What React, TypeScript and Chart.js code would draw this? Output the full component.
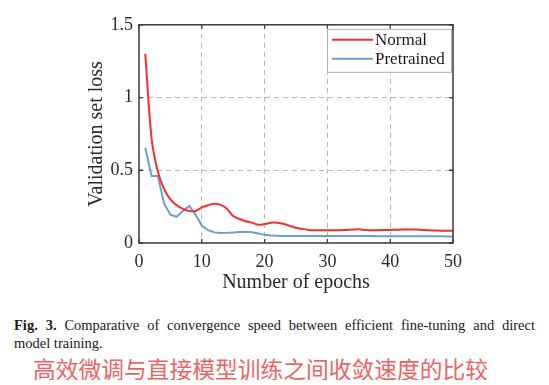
import React, { useEffect, useRef } from "react";
import { Chart, registerables } from "chart.js";

Chart.register(...registerables);

const epochs = [1, 2, 3, 4, 5, 6, 7, 8, 9, 10, 11, 12, 13, 14, 15, 16, 17, 18, 19, 20, 21, 22, 23, 24, 25, 26, 27, 28, 29, 30, 31, 32, 33, 34, 35, 36, 37, 38, 39, 40, 41, 42, 43, 44, 45, 46, 47, 48, 49, 50];

const normalLoss = [1.3, 0.72, 0.49, 0.37, 0.3, 0.26, 0.235, 0.22, 0.22, 0.245, 0.26, 0.27, 0.262, 0.235, 0.185, 0.165, 0.15, 0.14, 0.125, 0.13, 0.14, 0.14, 0.132, 0.118, 0.105, 0.097, 0.09, 0.088, 0.087, 0.087, 0.087, 0.088, 0.09, 0.092, 0.094, 0.09, 0.087, 0.088, 0.09, 0.09, 0.091, 0.092, 0.093, 0.092, 0.09, 0.088, 0.086, 0.085, 0.084, 0.084];

const pretrainedLoss = [0.655, 0.46, 0.46, 0.27, 0.195, 0.18, 0.22, 0.255, 0.195, 0.12, 0.088, 0.073, 0.069, 0.07, 0.072, 0.075, 0.077, 0.074, 0.066, 0.056, 0.051, 0.049, 0.048, 0.048, 0.048, 0.048, 0.048, 0.048, 0.048, 0.048, 0.048, 0.048, 0.048, 0.048, 0.048, 0.048, 0.048, 0.047, 0.047, 0.047, 0.047, 0.047, 0.047, 0.046, 0.046, 0.046, 0.046, 0.046, 0.045, 0.045];

const seriesLabels = ["Normal", "Pretrained"];
const seriesColors = ["#ff2a2a", "#6a9fd4"];

const xTicks = [0, 10, 20, 30, 40, 50];
const yTicks = [0, 0.5, 1, 1.5];

const SERIF = "'Liberation Serif', 'Times New Roman', serif";

const framePlugin = {
  id: "frame",
  afterDraw(chart: any) {
    const { ctx, chartArea } = chart;
    const { left, right, top, bottom } = chartArea;
    const xs = chart.scales.x;
    const ys = chart.scales.y;
    ctx.save();
    ctx.strokeStyle = "#3a3a3a";
    ctx.lineWidth = 1.3;
    ctx.setLineDash([]);
    ctx.beginPath();
    const tl = 4;
    xTicks.forEach((v) => {
      const px = xs.getPixelForValue(v);
      ctx.moveTo(px, bottom);
      ctx.lineTo(px, bottom - tl);
      ctx.moveTo(px, top);
      ctx.lineTo(px, top + tl);
    });
    yTicks.forEach((v) => {
      const py = ys.getPixelForValue(v);
      ctx.moveTo(left, py);
      ctx.lineTo(left + tl, py);
      ctx.moveTo(right, py);
      ctx.lineTo(right - tl, py);
    });
    ctx.stroke();
    ctx.lineWidth = 1.5;
    ctx.strokeRect(left, top, right - left, bottom - top);

    // legend
    const bx = right - 126;
    const by = top + 4;
    const bw = 124;
    const bh = 43;
    ctx.fillStyle = "#ffffff";
    ctx.fillRect(bx, by, bw, bh);
    ctx.strokeStyle = "#b0b0b0";
    ctx.lineWidth = 1;
    ctx.strokeRect(bx + 0.5, by + 0.5, bw, bh);
    ctx.font = "17px " + SERIF;
    ctx.textBaseline = "middle";
    ctx.textAlign = "left";
    chart.data.datasets.forEach((ds: any, i: number) => {
      const yy = top + 15 + i * 19;
      ctx.strokeStyle = ds.borderColor;
      ctx.lineWidth = 2;
      ctx.beginPath();
      ctx.moveTo(right - 121, yy);
      ctx.lineTo(right - 80, yy);
      ctx.stroke();
      ctx.fillStyle = "#1a1a1a";
      ctx.fillText(ds.label, right - 78, yy + 1);
    });
    ctx.restore();
  },
};

function LossChart() {
  const ref = useRef<HTMLCanvasElement | null>(null);
  useEffect(() => {
    if (!ref.current) return;
    const mk = (vals: number[]) => epochs.map((e, i) => ({ x: e, y: vals[i] }));
    const gridColor = (ctx: any) => {
      const v = ctx.tick ? ctx.tick.value : null;
      const s = ctx.scale;
      if (v === s.min || v === s.max) return "rgba(0,0,0,0)";
      return "#b8b8b8";
    };
    const chart = new Chart(ref.current, {
      type: "line",
      data: {
        datasets: [
          {
            label: seriesLabels[0],
            data: mk(normalLoss),
            borderColor: seriesColors[0],
            backgroundColor: seriesColors[0],
            borderWidth: 2,
            pointRadius: 0,
            tension: 0.3,
          },
          {
            label: seriesLabels[1],
            data: mk(pretrainedLoss),
            borderColor: seriesColors[1],
            backgroundColor: seriesColors[1],
            borderWidth: 2,
            pointRadius: 0,
            tension: 0,
          },
        ],
      },
      options: {
        animation: false,
        responsive: true,
        maintainAspectRatio: false,
        layout: { padding: { left: 75, right: 88, top: 13, bottom: 0 } },
        plugins: {
          legend: { display: false },
          tooltip: { enabled: false },
        },
        scales: {
          x: {
            type: "linear",
            min: 0,
            max: 50,
            afterBuildTicks: (axis: any) => {
              axis.ticks = xTicks.map((v) => ({ value: v }));
            },
            afterFit: (axis: any) => {
              axis.height = 60;
            },
            ticks: {
              color: "#2a2a2a",
              font: { family: SERIF, size: 18 },
              padding: 8,
              maxRotation: 0,
            },
            grid: { color: gridColor, lineWidth: 1, drawTicks: false },
            border: { display: false, dash: [5, 4] },
            title: {
              display: true,
              text: "Number of epochs",
              color: "#2a2a2a",
              font: { family: SERIF, size: 20 },
              padding: { top: 0, bottom: 8 },
            },
          },
          y: {
            type: "linear",
            min: 0,
            max: 1.5,
            afterBuildTicks: (axis: any) => {
              axis.ticks = yTicks.map((v) => ({ value: v }));
            },
            afterFit: (axis: any) => {
              axis.width = 56;
            },
            ticks: {
              color: "#2a2a2a",
              font: { family: SERIF, size: 18 },
              padding: 6,
              callback: (v: any) => String(v),
            },
            grid: { color: gridColor, lineWidth: 1, drawTicks: false },
            border: { display: false, dash: [5, 4] },
            title: {
              display: true,
              text: "Validation set loss",
              color: "#2a2a2a",
              font: { family: SERIF, size: 20 },
              padding: { top: 2, bottom: 0 },
            },
          },
        },
      },
      plugins: [framePlugin],
    } as any);
    return () => chart.destroy();
  }, []);
  return (
    <div style={{ position: "relative", width: 533, height: 295 }}>
      <canvas ref={ref} />
    </div>
  );
}

export default function App() {
  return (
    <div style={{ width: 533, background: "#fff" }}>
      <LossChart />
      <div
        style={{
          marginTop: 13,
          marginLeft: 6,
          width: 521,
          fontFamily: SERIF,
          fontSize: 14.5,
          lineHeight: "18px",
          color: "#1a1a1a",
        }}
      >
        <div style={{ textAlign: "justify", textAlignLast: "justify" as any }}>
          <b>Fig. 3.</b> Comparative of convergence speed between efficient fine-tuning and direct
        </div>
        <div>model training.</div>
      </div>
      <div
        style={{
          marginTop: 5,
          marginLeft: 25,
          fontFamily: "'Noto Sans CJK SC', sans-serif",
          fontSize: 22.75,
          lineHeight: "23px",
          color: "#f06262",
          whiteSpace: "nowrap",
        }}
      >
        高效微调与直接模型训练之间收敛速度的比较
      </div>
    </div>
  );
}
